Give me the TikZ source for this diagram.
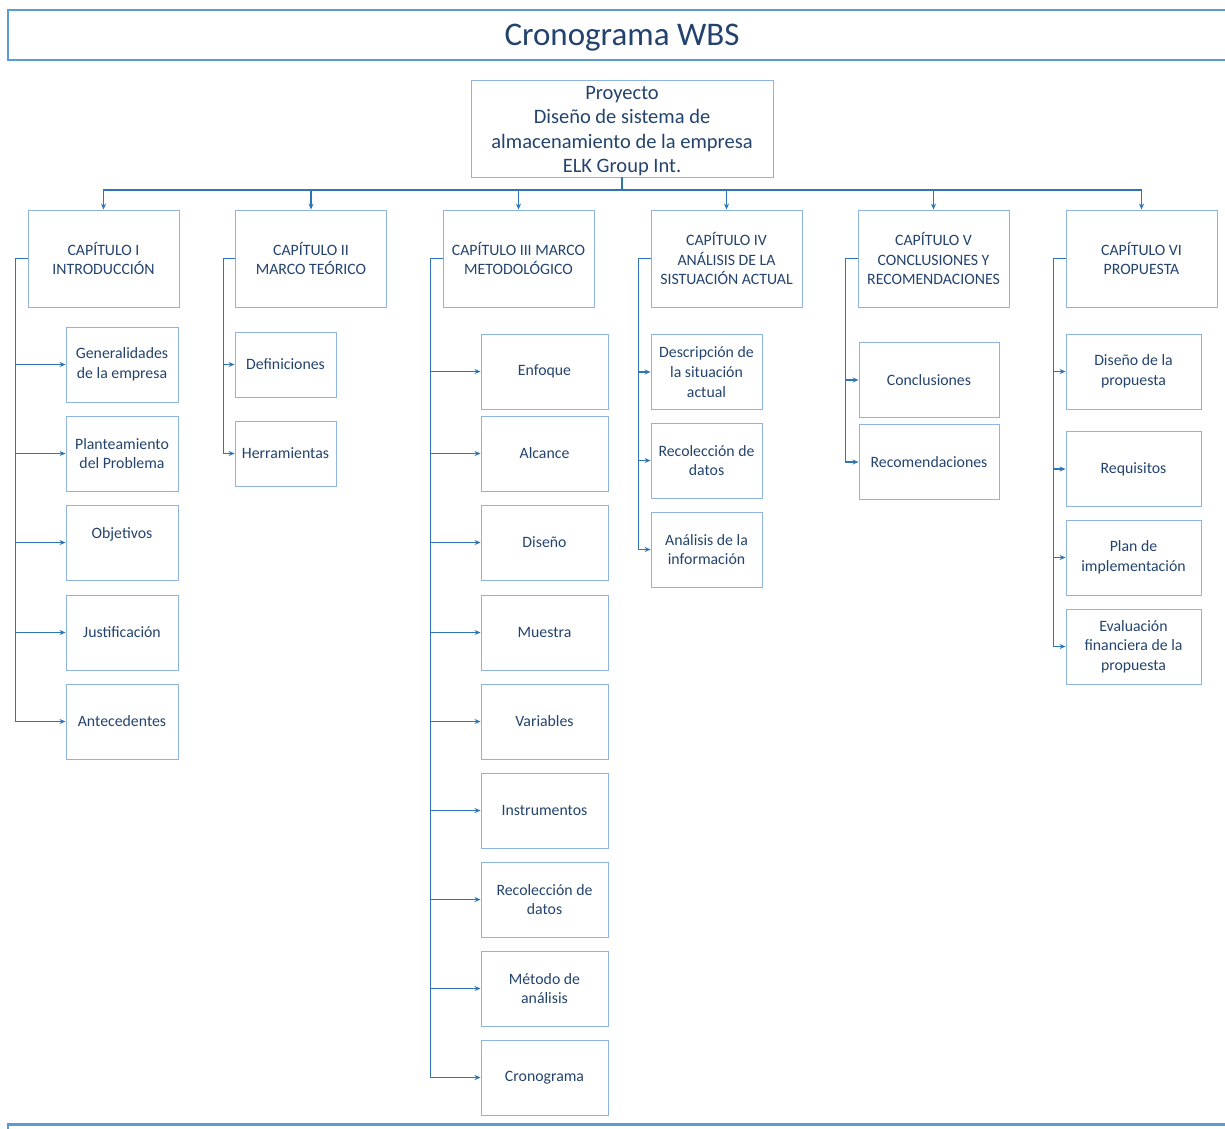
\documentclass[tikz,border=0pt]{standalone}
\usepackage{fontspec}
\setmainfont{Carlito}
\usetikzlibrary{arrows.meta}
\definecolor{txt}{HTML}{23436E}
\definecolor{boxline}{HTML}{8DB3E2}
\definecolor{conn}{HTML}{2E75B6}
\definecolor{frame}{HTML}{5B9BD5}
\begin{document}
\begin{tikzpicture}[x=1pt,y=-1pt,
  box/.style={draw=boxline, line width=0.9pt, align=center, inner sep=0pt,
    text=txt, font=\fontsize{15.8}{19.6}\selectfont},
  chap/.style={box, minimum width=151pt, minimum height=97pt},
  arr/.style={draw=conn, line width=1.1pt, -{Stealth[length=6pt,width=5pt]}},
  ]
\useasboundingbox (0,0) rectangle (1225,1128);
% title band and bottom band
\draw[frame, line width=2.8pt] (1240,10) -- (8,10) -- (8,60) -- (1240,60);
\node[text=txt, font=\fontsize{33}{36}\selectfont] (title) at (622,38) {Cronograma WBS};
\draw[frame, line width=2.8pt] (8,1140) -- (8,1124.5) -- (1240,1124.5);

% project
\node[box, minimum width=302pt, minimum height=97pt] (P) at (622,128.5) {};
\node[align=center, inner sep=0pt, text=txt, font=\fontsize{20.5}{24.4}\selectfont]
  (Pt) at (622,131) {Proyecto\\Diseño de sistema de\\almacenamiento de la empresa\\ELK Group Int.};

% chapters
\node[chap] (C1) at (103.5,258.5) {CAPÍTULO I\\INTRODUCCIÓN};
\node[chap] (C2) at (311,258.5) {CAPÍTULO II\\MARCO TEÓRICO};
\node[chap] (C3) at (518.5,258.5) {CAPÍTULO III MARCO\\METODOLÓGICO};
\node[chap] (C4) at (726.5,258.5) {CAPÍTULO IV\\ANÁLISIS DE LA\\SISTUACIÓN ACTUAL};
\node[chap] (C5) at (933.5,258.5) {CAPÍTULO V\\CONCLUSIONES Y\\RECOMENDACIONES};
\node[chap] (C6) at (1141.5,258.5) {CAPÍTULO VI\\PROPUESTA};

\coordinate (bus) at (0,190);
\foreach \c in {C1,C2,C3,C4,C5,C6}
  \draw[arr] (P.south) -- (P.south |- bus) -| (\c.north);

% chapter I
\tikzset{ka/.style={box, minimum width=112pt, minimum height=75pt}}
\node[ka] (A1) at (122,364.5) {Generalidades\\de la empresa};
\node[ka] (A2) at (122,453.5) {Planteamiento\\del Problema};
\node[ka] (A3) at (122,542.5) {Objetivos\\\mbox{}};
\node[ka] (A4) at (122,632.5) {Justificación};
\node[ka] (A5) at (122,721.5) {Antecedentes};
\foreach \k in {A1,A2,A3,A4,A5}
  \draw[arr] (C1.west) -- ++(-12,0) |- (\k.west);

% chapter II
\tikzset{kb/.style={box, minimum width=101pt, minimum height=65pt}}
\node[kb] (B1) at (285.5,364.5) {Definiciones};
\node[kb] (B2) at (285.5,453.5) {Herramientas};
\foreach \k in {B1,B2}
  \draw[arr] (C2.west) -- ++(-12,0) |- (\k.west);

% chapter III
\tikzset{kc/.style={box, minimum width=127pt, minimum height=75pt}}
\node[kc] (D1) at (544.5,371.5) {Enfoque};
\node[kc] (D2) at (544.5,453.5) {Alcance};
\node[kc] (D3) at (544.5,542.5) {Diseño};
\node[kc] (D4) at (544.5,632.5) {Muestra};
\node[kc] (D5) at (544.5,721.5) {Variables};
\node[kc] (D6) at (544.5,810.5) {Instrumentos};
\node[kc] (D7) at (544.5,899.5) {Recolección de\\datos};
\node[kc] (D8) at (544.5,988.5) {Método de\\análisis};
\node[kc] (D9) at (544.5,1077.5) {Cronograma};
\foreach \k in {D1,D2,D3,D4,D5,D6,D7,D8,D9}
  \draw[arr] (C3.west) -- ++(-12,0) |- (\k.west);

% chapter IV
\tikzset{kd/.style={box, minimum width=111pt, minimum height=75pt}}
\node[kd] (E1) at (706.5,372) {Descripción de\\la situación\\actual};
\node[kd] (E2) at (706.5,460.5) {Recolección de\\datos};
\node[kd] (E3) at (706.5,549.5) {Análisis de la\\información};
\foreach \k in {E1,E2,E3}
  \draw[arr] (C4.west) -- ++(-12,0) |- (\k.west);

% chapter V
\tikzset{ke/.style={box, minimum width=140pt, minimum height=75pt}}
\node[ke] (F1) at (929,380) {Conclusiones};
\node[ke] (F2) at (929,462) {Recomendaciones};
\foreach \k in {F1,F2}
  \draw[arr] (C5.west) -- ++(-12,0) |- (\k.west);

% chapter VI
\tikzset{kf/.style={box, minimum width=135pt, minimum height=75pt}}
\node[kf] (G1) at (1133.5,371.5) {Diseño de la\\propuesta};
\node[kf] (G2) at (1133.5,469) {Requisitos};
\node[kf] (G3) at (1133.5,557.5) {Plan de\\implementación};
\node[kf] (G4) at (1133.5,646.5) {Evaluación\\financiera de la\\propuesta};
\foreach \k in {G1,G2,G3,G4}
  \draw[arr] (C6.west) -- ++(-12,0) |- (\k.west);
\end{tikzpicture}
\end{document}
